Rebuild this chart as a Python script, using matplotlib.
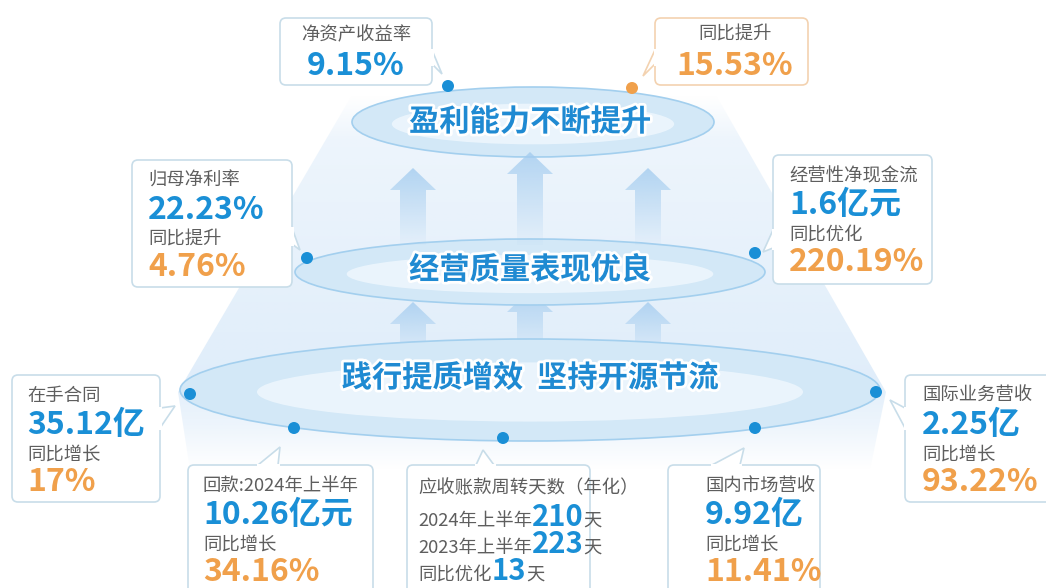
import numpy as np
import matplotlib
matplotlib.use("Agg")
import matplotlib.pyplot as plt
from matplotlib.patches import Ellipse, FancyBboxPatch, Polygon, Circle
import matplotlib.patheffects as pe

plt.rcParams['font.family'] = ['Noto Sans CJK SC', 'DejaVu Sans']

BLUE = '#1a8fd6'
ORANGE = '#f0a04b'
GRAY = '#5e5e5e'
EDGE = '#c8dde9'

# ---- data ----
levels = ['践行提质增效  坚持开源节流', '经营质量表现优良', '盈利能力不断提升']

card_title = ['净资产收益率', '同比提升', '归母净利率', '经营性净现金流', '在手合同',
              '回款:2024年上半年', '应收账款周转天数（年化）', '国内市场营收', '国际业务营收']
card_value = ['9.15%', '15.53%', '22.23%', '1.6亿元', '35.12亿',
              '10.26亿元', '', '9.92亿', '2.25亿']
card_change_label = ['', '', '同比提升', '同比优化', '同比增长', '同比增长', '', '同比增长', '同比增长']
card_change = ['', '', '4.76%', '220.19%', '17%', '34.16%', '', '11.41%', '93.22%']

ar_periods = ['2024年上半年', '2023年上半年']
ar_days = [210, 223]
ar_improve_label = '同比优化'
ar_improve = 13

# ---- layout (pixels) ----
boxes = [
    dict(b=(280, 18, 432, 85), tail=[(432, 50), (432, 64)], tip=(442, 74), dot=(448, 86), tx=356, center=True),
    dict(b=(655, 18, 808, 85), tail=[(655, 50), (655, 64)], tip=(643, 76), dot=(632, 88), tx=735, center=True, orange=True),
    dict(b=(132, 160, 292, 287), tail=[(292, 228), (292, 244)], tip=(300, 250), dot=(307, 258), tx=148),
    dict(b=(773, 155, 932, 284), tail=[(773, 230), (773, 248)], tip=(763, 252), dot=(755, 253), tx=789),
    dict(b=(12, 375, 160, 502), tail=[(160, 408), (160, 428)], tip=(175, 406), dot=(190, 394), tx=27),
    dict(b=(188, 465, 373, 610), tail=[(258, 465), (278, 465)], tip=(280, 447), dot=(294, 428), tx=203),
    dict(b=(407, 465, 590, 610), tail=[(476, 465), (494, 465)], tip=(483, 450), dot=(503, 438), tx=418),
    dict(b=(668, 465, 820, 610), tail=[(712, 465), (740, 465)], tip=(744, 448), dot=(755, 428), tx=705),
    dict(b=(905, 375, 1060, 502), tail=[(905, 408), (905, 428)], tip=(890, 400), dot=(876, 392), tx=922),
]

fig = plt.figure(figsize=(10.46, 5.88), dpi=100)
ax = fig.add_axes([0, 0, 1, 1])
ax.set_xlim(0, 1046)
ax.set_ylim(588, 0)
ax.axis('off')


def gradient_poly(pts, rgb, alphas, z):
    pts = np.array(pts, float)
    y0, y1 = pts[:, 1].min(), pts[:, 1].max()
    x0, x1 = pts[:, 0].min(), pts[:, 0].max()
    n = 300
    img = np.zeros((n, 2, 4))
    img[:, :, :3] = rgb
    stops = np.linspace(0, 1, len(alphas)) if not isinstance(alphas[0], tuple) else [a[0] for a in alphas]
    vals = alphas if not isinstance(alphas[0], tuple) else [a[1] for a in alphas]
    img[:, :, 3] = np.interp(np.linspace(0, 1, n), stops, vals)[:, None]
    im = ax.imshow(img, extent=(x0, x1, y1, y0), aspect='auto', zorder=z, interpolation='bilinear')
    poly = Polygon(pts, closed=True, facecolor='none', edgecolor='none', transform=ax.transData)
    ax.add_patch(poly)
    im.set_clip_path(poly)


# cone behind the three levels
gradient_poly([(352, 95), (716, 95), (886, 392), (870, 470), (190, 470), (178, 392)],
              (0.80, 0.89, 0.97), [(0, 0.0), (0.12, 0.35), (0.75, 0.6), (0.88, 0.35), (1, 0.0)], 1)

# ellipses
ell = [((530, 390), 700, 102), ((530, 272), 470, 66), ((533, 122), 362, 70)]
for (c, w, h) in ell:
    ax.add_patch(Ellipse(c, w, h, facecolor='#d3e8f7', edgecolor='#a3cfee', lw=1.2, zorder=3))
    ax.add_patch(Ellipse((c[0], c[1] + 2), w * 0.78, h * 0.58, facecolor='#edf6fd', edgecolor='none', alpha=0.9, zorder=3))


def arrow_pts(x, tip, bottom, sw=13, hw=23, hl=22):
    return [(x, tip), (x + hw, tip + hl), (x + sw, tip + hl), (x + sw, bottom),
            (x - sw, bottom), (x - sw, tip + hl), (x - hw, tip + hl)]


for x, tip in [(413, 302), (530, 290), (648, 302)]:
    gradient_poly(arrow_pts(x, tip, 355), (0.64, 0.80, 0.94), [0.8, 0.05], 2.5)
for x, tip in [(413, 168), (530, 152), (648, 168)]:
    gradient_poly(arrow_pts(x, tip, 245), (0.64, 0.80, 0.94), [0.8, 0.05], 3.2)

stroke = [pe.withStroke(linewidth=4, foreground='white')]
text_pos = [(530, 378), (530, 270), (530, 122)]
for t, (x, y) in zip(levels, text_pos):
    ax.text(x, y, t, ha='center', va='center', fontsize=21.8, fontweight='bold', color='#1f8ad2',
            path_effects=stroke, zorder=4)

renderer = fig.canvas.get_renderer()


def runs(x, y, parts):
    for s, size, color, weight in parts:
        t = ax.text(x, y, s, ha='left', va='baseline', fontsize=size, color=color, fontweight=weight, zorder=7)
        bb = t.get_window_extent(renderer=renderer)
        x += bb.width


LBL = 13.2
VAL = 23
RUN = 21
for i, bx in enumerate(boxes):
    x0, y0, x1, y1 = bx['b']
    ec = '#f3d2b0' if bx.get('orange') else EDGE
    ax.add_patch(FancyBboxPatch((x0, y0), x1 - x0, y1 - y0, boxstyle='round,pad=0,rounding_size=6',
                                facecolor='white', edgecolor=ec, lw=1.2, zorder=5))
    (a, b) = bx['tail']
    ax.add_patch(Polygon([a, bx['tip'], b], closed=False, facecolor='white', edgecolor=ec, lw=1.2, zorder=5.5))
    ax.plot([a[0], b[0]], [a[1], b[1]], color='white', lw=2.2, zorder=5.6)
    ax.add_patch(Circle(bx['dot'], 6, facecolor=ORANGE if bx.get('orange') else BLUE, edgecolor='none', zorder=6))

    tx = bx['tx']
    if bx.get('center'):
        ax.text(tx, y0 + 17, card_title[i], ha='center', va='center', fontsize=LBL, color=GRAY, zorder=7)
        ax.text(tx, y0 + 48, card_value[i], ha='center', va='center', fontsize=VAL, fontweight='bold',
                color=ORANGE if bx.get('orange') else BLUE, zorder=7)
    elif card_value[i]:
        ax.text(tx, y0 + 21, card_title[i], ha='left', va='center', fontsize=LBL, color=GRAY, zorder=7)
        ax.text(tx, y0 + 50, card_value[i], ha='left', va='center', fontsize=VAL, fontweight='bold', color=BLUE, zorder=7)
        ax.text(tx, y0 + 80, card_change_label[i], ha='left', va='center', fontsize=LBL, color=GRAY, zorder=7)
        ax.text(tx, y0 + 107, card_change[i], ha='left', va='center', fontsize=VAL, fontweight='bold', color=ORANGE, zorder=7)
    else:
        ax.text(tx, y0 + 23, card_title[i], ha='left', va='center', fontsize=LBL, color=GRAY, zorder=7)
        for k, (p, d) in enumerate(zip(ar_periods, ar_days)):
            runs(tx, y0 + 61 + 27 * k, [(p, LBL, GRAY, 'normal'), (str(d), RUN, BLUE, 'bold'), ('天', LBL, GRAY, 'normal')])
        runs(tx, y0 + 115, [(ar_improve_label, LBL, GRAY, 'normal'), (str(ar_improve), RUN, BLUE, 'bold'),
                            ('天', LBL, GRAY, 'normal')])

fig.savefig('out.png', dpi=100, facecolor='white')
